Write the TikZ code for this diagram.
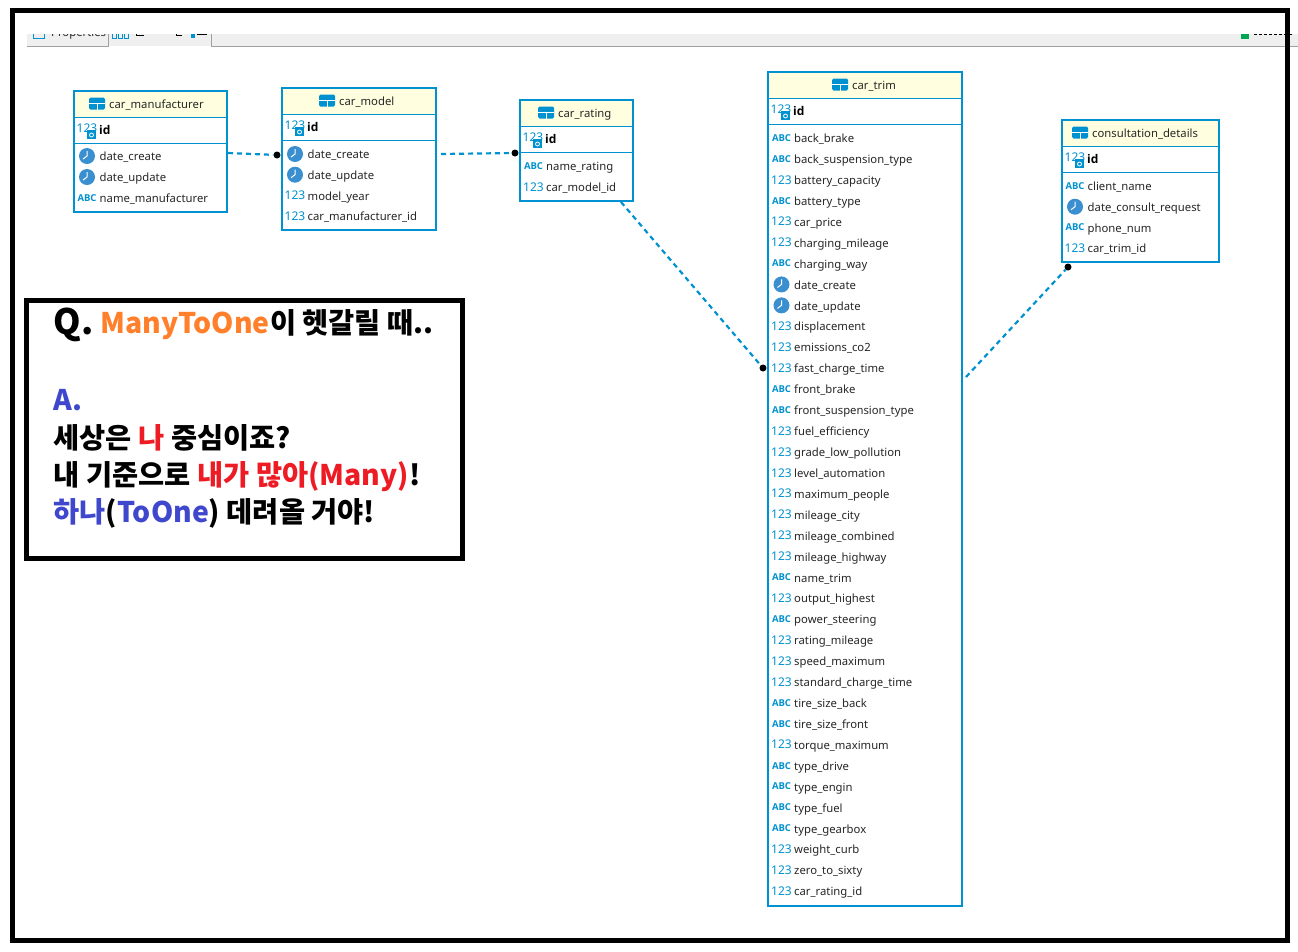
\documentclass[tikz,border=0pt]{standalone}
\usepackage{fontspec}
\setmainfont{Noto Sans}
\newfontfamily\krfont{Noto Sans CJK KR}
\newfontfamily\boldface{Open Sans}
\usetikzlibrary{positioning}
\definecolor{erdblue}{HTML}{0091D0}
\definecolor{clockblue}{HTML}{3A8FD0}
\definecolor{headfill}{HTML}{FFFFE0}
\definecolor{barfill}{HTML}{EFEFEF}
\definecolor{bargray}{HTML}{A0A0A0}
\definecolor{barsquare}{HTML}{00A651}
\definecolor{manyorange}{HTML}{FF7F2A}
\definecolor{manyred}{HTML}{ED1C24}
\definecolor{oneblue}{HTML}{3F48CC}
\tikzset{
  tablebox/.style={draw=erdblue,fill=white,line width=2.4pt,inner sep=0pt,outer sep=0pt},
  headbox/.style={fill=headfill,inner sep=0pt,outer sep=0pt},
  tableline/.style={draw=erdblue,line width=1pt},
  headtext/.style={anchor=base west,inner sep=0pt,font=\fontsize{11.3}{14}\selectfont,text=black!85},
  coltext/.style={anchor=base west,inner sep=0pt,font=\fontsize{11.3}{14}\selectfont,text=black!85},
  keytext/.style={anchor=base west,inner sep=0pt,font=\boldface\fontsize{12}{14}\bfseries\selectfont,text=black},
  numicon/.style={inner sep=0pt,font=\fontsize{12}{14}\selectfont,text=erdblue},
  abcicon/.style={inner sep=0pt,font=\boldface\fontsize{9.5}{10}\bfseries\selectfont,text=erdblue},
  clockicon/.style={circle,fill=clockblue,minimum size=16pt,inner sep=0pt},
  keybadge/.style={fill=erdblue,minimum width=9pt,minimum height=9pt,inner sep=0pt},
  gridicon/.style={fill=erdblue,rounded corners=1.5pt,minimum width=16pt,minimum height=12pt,inner sep=0pt},
  relation/.style={draw=erdblue,line width=2.2pt,dash pattern=on 5pt off 4pt},
  fkdot/.style={circle,fill=black,minimum size=7pt,inner sep=0pt},
  frameline/.style={draw=black,line width=5pt},
  calltext/.style={anchor=base west,inner sep=0pt,font=\krfont\fontsize{28.4}{30}\bfseries\selectfont},
}
% column type icons, one macro per type
\newcommand{\iconnum}[2]{\node[numicon] (#1) at (#2) {123};}
\newcommand{\iconabc}[2]{\node[abcicon] (#1) at (#2) {ABC};}
\newcommand{\iconclock}[2]{%
  \node[clockicon] (#1) at (#2) {};
  \draw[white,line width=1pt] (#1.center) ++(0,-5) -- ++(0,5) -- ++(-4,3);}
% name, label, label x, x1, y1, x2, y2
\newcommand{\erdtable}[7]{%
  \node[tablebox,minimum width={#6-#4},minimum height={#7-#5}] (#1) at ({(#4+#6)/2},{(#5+#7)/2}) {};
  \node[headbox,minimum width={#6-#4-2.4},minimum height=24.5] (#1-head) at ({(#4+#6)/2},{#5+13.5}) {};
  \draw[tableline] (#4,#5+26) -- (#6,#5+26);
  \draw[tableline] (#4,#5+52) -- (#6,#5+52);
  \node[gridicon] (#1-grid) at (#3-12,#5+12.5) {};
  \draw[white,line width=.8pt] (#1-grid.west) -- (#1-grid.east) (#1-grid.center) -- (#1-grid.south);
  \node[headtext] (#1-label) at (#3,#5+17) {#2};
  \iconnum{#1-idnum}{#4+13,#5+37.5}
  \node[keybadge] (#1-key) at (#4+17.5,#5+43.5) {};
  \draw[white,line width=.8pt] (#1-key.center) ++(0,.5) circle (2);
  \node[keytext] (#1-id) at (#4+25,#5+43) {id};
}
% name, x1, first row y, row step, rows
\newcommand{\erdcols}[5]{%
  \foreach \kind/\colname [count=\i from 0] in {#5} {
    \pgfmathsetmacro{\rowy}{#3+#4*\i}
    \csname icon\kind\endcsname{#1-icon\i}{#2+13,\rowy}
    \node[coltext] (#1-col\i) at (#2+25.5,\rowy+4.7) {\colname};
  }
}

\begin{document}
\begin{tikzpicture}[x=1pt,y=-1pt]
  \useasboundingbox (0,0) rectangle (1298,951);

  % cut off toolbar at the top
  \fill[barfill] (27,34) rectangle (1298,46);
  \draw[bargray,line width=1pt] (27,46.5) -- (108.5,46.5) -- (108.5,34);
  \draw[bargray,line width=1pt] (211.5,34) -- (211.5,46.5) -- (1298,46.5);
  \begin{scope}
    \clip (27,34) rectangle (1298,46);
    \node[coltext] (proptext) at (51,36) {Properties};
    \draw[erdblue,line width=1pt] (33.5,30) rectangle (44.5,38.5);
    \foreach \x in {112,118,124} {\draw[erdblue,line width=1pt] (\x,30) rectangle (\x+4.5,38);}
    \draw[black,line width=1pt] (136,30) -- (136,35) -- (144,35);
    \draw[black,line width=1pt] (176,30) -- (176,35) -- (182,35);
    \draw[black,line width=1.2pt] (197,34.6) -- (207,34.6);
    \fill[erdblue] (191,34) rectangle (195,38);
    \fill[barsquare] (1241,34) rectangle (1249,39);
    \draw[black,line width=1pt,dash pattern=on 3pt off 2pt] (1254,34.5) -- (1292,34.5);
  \end{scope}
  \draw[frameline] (12.5,10.5) rectangle (1287.5,940.5);

  \erdtable{carmanufacturer}{car\_manufacturer}{109}{74}{91}{227}{212}
  \erdcols{carmanufacturer}{74}{156}{21}{clock/date\_create,clock/date\_update,abc/name\_manufacturer}

  \erdtable{carmodel}{car\_model}{339}{282}{88}{436}{230}
  \erdcols{carmodel}{282}{154}{20.7}{clock/date\_create,clock/date\_update,num/model\_year,num/car\_manufacturer\_id}

  \erdtable{carrating}{car\_rating}{558}{520}{100}{633}{201}
  \erdcols{carrating}{520.5}{166}{21}{abc/name\_rating,num/car\_model\_id}

  \erdtable{cartrim}{car\_trim}{852}{768}{72}{962}{906}
  \erdcols{cartrim}{768.5}{138}{20.92}{abc/back\_brake,abc/back\_suspension\_type,num/battery\_capacity,abc/battery\_type,num/car\_price,num/charging\_mileage,abc/charging\_way,clock/date\_create,clock/date\_update,num/displacement,num/emissions\_co2,num/fast\_charge\_time,abc/front\_brake,abc/front\_suspension\_type,num/fuel\_efficiency,num/grade\_low\_pollution,num/level\_automation,num/maximum\_people,num/mileage\_city,num/mileage\_combined,num/mileage\_highway,abc/name\_trim,num/output\_highest,abc/power\_steering,num/rating\_mileage,num/speed\_maximum,num/standard\_charge\_time,abc/tire\_size\_back,abc/tire\_size\_front,num/torque\_maximum,abc/type\_drive,abc/type\_engin,abc/type\_fuel,abc/type\_gearbox,num/weight\_curb,num/zero\_to\_sixty,num/car\_rating\_id}

  \erdtable{consultation}{consultation\_details}{1092}{1062}{120}{1219}{262}
  \erdcols{consultation}{1062}{186}{20.7}{abc/client\_name,clock/date\_consult\_request,abc/phone\_num,num/car\_trim\_id}

  % relations
  \node[fkdot] (dotmodel) at (277,155) {};
  \node[fkdot] (dotrating) at (515,153) {};
  \node[fkdot] (dottrim) at (763,368) {};
  \node[fkdot] (dotconsult) at (1068,267) {};
  \coordinate (frommanufacturer) at (228,153);
  \coordinate (frommodel) at (441,154);
  \coordinate (fromrating) at (621,202);
  \coordinate (fromtrim) at (966,377);
  \draw[relation] (frommanufacturer) -- (dotmodel);
  \draw[relation] (frommodel) -- (dotrating);
  \draw[relation] (fromrating) -- (dottrim);
  \draw[relation] (fromtrim) -- (dotconsult);

  % note box
  \draw[frameline] (26.5,300.5) rectangle (462.5,558.5);
  \node[calltext,font=\krfont\fontsize{35}{40}\bfseries\selectfont] (noteq) at (53.5,334) {Q.};
  \node[calltext,text=manyorange] (notemany) at (100.5,333) {ManyToOne};
  \node[calltext,right=0pt of notemany.base east,anchor=base west] (notehead) {이 헷갈릴 때..};
  \node[calltext,text=oneblue] (notea) at (53.5,410) {A.};
  \node[calltext] (noteone) at (53.5,448) {세상은 \textcolor{manyred}{나} 중심이죠?};
  \node[calltext] (notetwo) at (53.5,485) {내 기준으로 \textcolor{manyred}{내가 많아(Many)}!};
  \node[calltext] (notethree) at (53.5,522) {\textcolor{oneblue}{하나}(\textcolor{oneblue}{ToOne}) 데려올 거야!};
\end{tikzpicture}
\end{document}
